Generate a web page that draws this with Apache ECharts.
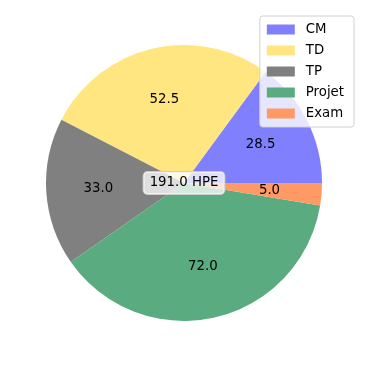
<!DOCTYPE html>
<html><head><meta charset="utf-8">
<script src="https://cdn.jsdelivr.net/npm/echarts@6/dist/echarts.min.js"></script>
<style>html,body{margin:0;padding:0;background:#fff}#c{width:366px;height:366px}</style>
</head><body><div id="c"></div>
<script>
const categories = ['CM', 'TD', 'TP', 'Projet', 'Exam'];
const values = [28.5, 52.5, 33.0, 72.0, 5.0];
const colors = ['#8080ff', '#ffe680', '#808080', '#5aab80', '#ff9966'];
const unit = 'HPE';

const total = values.reduce((a, b) => a + b, 0);
const data = categories.map((n, i) => ({ name: n, value: values[i], itemStyle: { color: colors[i] } }));
const cx = 184, cy = 183, R = 138;
const font = 'DejaVu Sans';
const chart = echarts.init(document.getElementById('c'), null, { renderer: 'canvas' });
chart.setOption({
  animation: false,
  legend: {
    orient: 'vertical', right: 12, top: 16,
    data: categories,
    icon: 'rect', itemWidth: 28, itemHeight: 10, itemGap: 8,
    backgroundColor: 'rgba(255,255,255,0.8)', borderColor: '#d0d0d0', borderWidth: 1, borderRadius: 3,
    padding: [7, 10, 7, 7],
    textStyle: { fontFamily: font, fontSize: 13.3, color: '#000', padding: [0, 0, 0, 6] }
  },
  series: [
    {
      type: 'pie', center: [cx, cy], radius: [0, R], startAngle: 0, clockwise: false,
      data: data, label: { show: false }, labelLine: { show: false },
      itemStyle: { borderWidth: 0 }, emphasis: { disabled: true }
    },
    {
      type: 'pie', center: [cx, cy], radius: [R * 0.2, R], startAngle: 0, clockwise: false,
      data: categories.map((n, i) => ({ name: n + ' ', value: values[i] })),
      itemStyle: { color: 'rgba(0,0,0,0)' }, silent: true, legendHoverLink: false,
      label: { show: true, position: 'inside', formatter: p => p.value.toFixed(1), fontFamily: font, fontSize: 13.3, color: '#000' },
      labelLine: { show: false }, emphasis: { disabled: true }
    }
  ],
  graphic: [{
    type: 'text', x: cx, y: cy, z: 100,
    style: {
      text: total.toFixed(1) + ' ' + unit, fontFamily: font, fontSize: 13.3, fill: '#000',
      align: 'center', verticalAlign: 'middle',
      backgroundColor: 'rgba(255,255,255,0.75)', borderColor: '#cccccc', borderWidth: 1,
      borderRadius: 4, padding: [5, 6, 4, 6]
    }
  }]
});
</script></body></html>
